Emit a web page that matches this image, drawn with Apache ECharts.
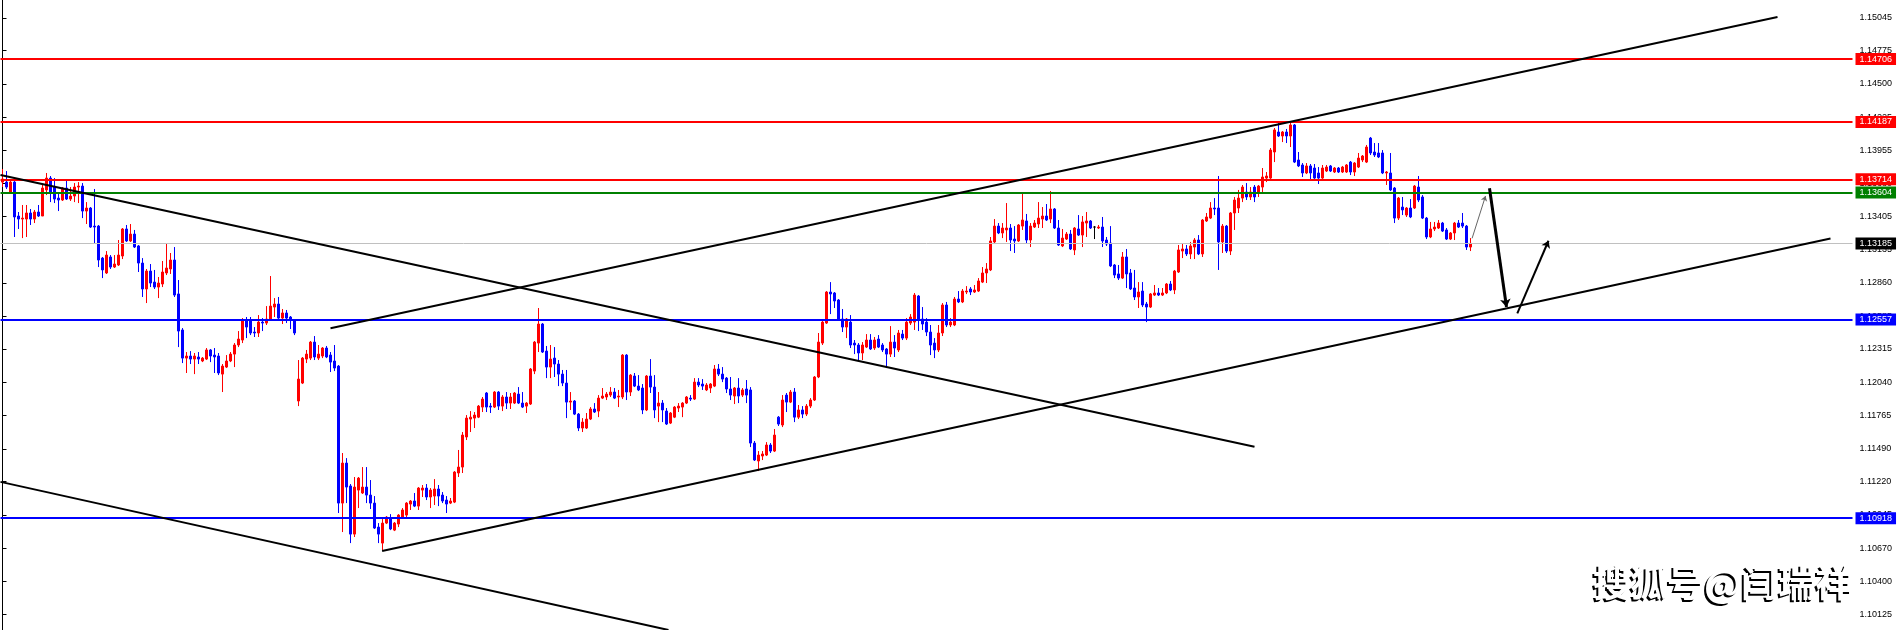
<!DOCTYPE html>
<html><head><meta charset="utf-8">
<script src="https://cdn.jsdelivr.net/npm/echarts@6/dist/echarts.min.js"></script>
<style>html,body{margin:0;padding:0;background:#fff;overflow:hidden}#c{width:1898px;height:630px}</style>
</head><body><div id="c"></div>
<script>
// ---- candle data (EURUSD style) ----
const opens = [
1.13691,1.13691,1.13609,1.13691,1.13411,1.13386,1.13386,1.13436,1.13386,1.13444,
1.13411,1.13626,1.13724,1.13650,1.13559,1.13543,1.13642,1.13551,1.13576,1.13650,
1.13658,1.13452,1.13477,1.13328,1.13328,1.13064,1.12941,1.13073,1.12990,1.13007,
1.13081,1.13304,1.13205,1.13262,1.13164,1.13023,1.12809,1.12957,1.12866,1.12825,
1.12850,1.12941,1.12974,1.13048,1.12768,1.12471,1.12239,1.12256,1.12231,1.12248,
1.12215,1.12231,1.12306,1.12264,1.12256,1.12107,1.12165,1.12215,1.12272,1.12347,
1.12388,1.12545,1.12553,1.12454,1.12446,1.12536,1.12528,1.12553,1.12660,1.12685,
1.12569,1.12611,1.12578,1.12553,1.11885,1.12033,1.12231,1.12239,1.12371,1.12239,
1.12256,1.12322,1.12264,1.12215,1.12173,1.11043,1.11373,1.11184,1.10787,1.11150,
1.11126,1.11175,1.11109,1.11043,1.10845,1.10713,1.10878,1.10919,1.10820,1.10870,
1.10927,1.10944,1.11035,1.11060,1.11018,1.11150,1.11167,1.11093,1.11101,1.11159,
1.11109,1.11068,1.11043,1.11051,1.11291,1.11340,1.11588,1.11736,1.11744,1.11752,
1.11835,1.11951,1.11843,1.11835,1.11959,1.11843,1.11918,1.11868,1.11868,1.11942,
1.11868,1.11843,1.11860,1.12132,1.12363,1.12520,1.12297,1.12165,1.12239,1.12190,
1.12107,1.12033,1.11876,1.11885,1.11777,1.11662,1.11662,1.11736,1.11819,1.11802,
1.11909,1.11918,1.11934,1.11959,1.11918,1.11918,1.12264,1.11959,1.12091,1.12008,
1.11992,1.11811,1.12091,1.12000,1.11843,1.11868,1.11802,1.11703,1.11752,1.11827,
1.11835,1.11868,1.11909,1.11901,1.12041,1.12025,1.11976,1.11992,1.12008,1.12149,
1.12107,1.12074,1.11984,1.11926,1.11992,1.11934,1.11984,1.11976,1.11538,1.11390,
1.11431,1.11439,1.11522,1.11472,1.11752,1.11687,1.11934,1.11876,1.11959,1.11752,
1.11811,1.11777,1.11843,1.11893,1.12083,1.12363,1.12528,1.12784,1.12776,1.12718,
1.12561,1.12495,1.12536,1.12363,1.12347,1.12281,1.12330,1.12388,1.12322,1.12396,
1.12347,1.12314,1.12272,1.12371,1.12306,1.12437,1.12404,1.12528,1.12536,1.12751,
1.12561,1.12536,1.12454,1.12363,1.12306,1.12446,1.12677,1.12512,1.12512,1.12726,
1.12702,1.12784,1.12809,1.12784,1.12792,1.12866,1.12941,1.12966,1.13197,1.13328,
1.13271,1.13296,1.13312,1.13221,1.13205,1.13328,1.13370,1.13213,1.13320,1.13345,
1.13386,1.13411,1.13386,1.13469,1.13312,1.13164,1.13221,1.13262,1.13131,1.13304,
1.13254,1.13353,1.13370,1.13320,1.13312,1.13320,1.13213,1.13188,1.13007,1.12933,
1.12899,1.13073,1.12941,1.12817,1.12743,1.12792,1.12685,1.12660,1.12759,1.12776,
1.12759,1.12776,1.12850,1.12801,1.12949,1.13122,1.13139,1.13098,1.13155,1.13213,
1.13098,1.13370,1.13394,1.13477,1.13477,1.13197,1.13328,1.13122,1.13436,1.13477,
1.13559,1.13609,1.13568,1.13650,1.13609,1.13650,1.13724,1.13724,1.13939,1.14104,
1.14071,1.14104,1.14071,1.14162,1.13873,1.13832,1.13766,1.13824,1.13807,1.13766,
1.13724,1.13782,1.13824,1.13774,1.13807,1.13774,1.13774,1.13856,1.13774,1.13815,
1.13873,1.13856,1.14054,1.13939,1.13931,1.13931,1.13766,1.13766,1.13642,1.13394,
1.13485,1.13419,1.13477,1.13477,1.13650,1.13568,1.13394,1.13238,1.13304,1.13312,
1.13353,1.13296,1.13221,1.13271,1.13353,1.13353,1.13328,1.13155
];
const highs = [
1.13799,1.13782,1.13708,1.13708,1.13444,1.13502,1.13502,1.13469,1.13461,1.13502,
1.13667,1.13766,1.13741,1.13724,1.13609,1.13650,1.13700,1.13650,1.13683,1.13691,
1.13683,1.13526,1.13485,1.13634,1.13337,1.13073,1.13122,1.13089,1.13089,1.13213,
1.13312,1.13337,1.13345,1.13296,1.13172,1.13064,1.12974,1.13015,1.12966,1.12908,
1.13040,1.13188,1.13106,1.13155,1.12883,1.12487,1.12289,1.12297,1.12281,1.12289,
1.12248,1.12322,1.12314,1.12322,1.12281,1.12190,1.12264,1.12289,1.12363,1.12462,
1.12569,1.12578,1.12578,1.12495,1.12594,1.12569,1.12668,1.12916,1.12734,1.12743,
1.12644,1.12636,1.12586,1.12561,1.12223,1.12248,1.12306,1.12380,1.12421,1.12347,
1.12330,1.12339,1.12289,1.12347,1.12182,1.11456,1.11414,1.11200,1.11258,1.11258,
1.11340,1.11340,1.11233,1.11101,1.10878,1.10911,1.10936,1.10952,1.10887,1.10952,
1.11002,1.11051,1.11068,1.11126,1.11175,1.11192,1.11200,1.11167,1.11241,1.11192,
1.11134,1.11101,1.11085,1.11307,1.11481,1.11629,1.11769,1.11802,1.11794,1.11852,
1.11918,1.11959,1.11868,1.11967,1.11967,1.11934,1.11959,1.11951,1.11959,1.12000,
1.11959,1.11876,1.12157,1.12380,1.12652,1.12528,1.12339,1.12347,1.12330,1.12223,
1.12141,1.12141,1.11959,1.11893,1.11786,1.11744,1.11786,1.11835,1.11868,1.11934,
1.11992,1.11959,1.12000,1.11992,1.11976,1.12272,1.12272,1.12107,1.12116,1.12099,
1.12025,1.12099,1.12231,1.12099,1.11959,1.11893,1.11827,1.11794,1.11843,1.11868,
1.11876,1.11926,1.11934,1.12074,1.12074,1.12066,1.12033,1.12033,1.12182,1.12190,
1.12165,1.12083,1.12083,1.12000,1.12074,1.11992,1.12058,1.12000,1.11555,1.11472,
1.11472,1.11546,1.11538,1.11654,1.11761,1.11934,1.11951,1.11976,1.11992,1.11852,
1.11843,1.11860,1.11909,1.12091,1.12446,1.12545,1.12792,1.12866,1.12784,1.12726,
1.12644,1.12569,1.12594,1.12388,1.12363,1.12371,1.12437,1.12437,1.12413,1.12429,
1.12363,1.12322,1.12503,1.12429,1.12471,1.12471,1.12569,1.12602,1.12776,1.12759,
1.12660,1.12569,1.12512,1.12404,1.12512,1.12693,1.12702,1.12569,1.12743,1.12792,
1.12809,1.12833,1.12825,1.12842,1.12899,1.12990,1.13023,1.13238,1.13386,1.13353,
1.13353,1.13518,1.13345,1.13328,1.13345,1.13601,1.13428,1.13353,1.13378,1.13526,
1.13485,1.13510,1.13617,1.13477,1.13378,1.13304,1.13279,1.13296,1.13320,1.13419,
1.13411,1.13444,1.13378,1.13328,1.13337,1.13403,1.13238,1.13328,1.13015,1.13007,
1.13114,1.13139,1.12974,1.12966,1.12866,1.12866,1.12702,1.12776,1.12842,1.12817,
1.12817,1.12858,1.12875,1.12966,1.13172,1.13180,1.13172,1.13197,1.13229,1.13254,
1.13386,1.13436,1.13526,1.13559,1.13741,1.13345,1.13337,1.13444,1.13568,1.13626,
1.13667,1.13683,1.13650,1.13667,1.13667,1.13807,1.13774,1.13972,1.14137,1.14178,
1.14112,1.14129,1.14178,1.14170,1.13939,1.13848,1.13848,1.13840,1.13840,1.13815,
1.13832,1.13832,1.13832,1.13815,1.13815,1.13824,1.13840,1.13865,1.13856,1.13931,
1.13914,1.13997,1.14063,1.14013,1.14013,1.13955,1.13782,1.13931,1.13650,1.13568,
1.13568,1.13485,1.13551,1.13667,1.13741,1.13584,1.13403,1.13362,1.13362,1.13378,
1.13362,1.13312,1.13279,1.13362,1.13378,1.13436,1.13337,1.13229
];
const lows = [
1.13650,1.13634,1.13601,1.13238,1.13304,1.13229,1.13238,1.13337,1.13353,1.13403,
1.13411,1.13584,1.13526,1.13518,1.13452,1.13535,1.13543,1.13535,1.13526,1.13518,
1.13394,1.13345,1.13312,1.13188,1.12990,1.12899,1.12933,1.12974,1.12982,1.12999,
1.13056,1.13197,1.13197,1.13147,1.12949,1.12743,1.12693,1.12825,1.12809,1.12734,
1.12825,1.12924,1.12933,1.12743,1.12330,1.12198,1.12116,1.12190,1.12107,1.12190,
1.12206,1.12223,1.12206,1.12116,1.12099,1.11959,1.12157,1.12206,1.12165,1.12330,
1.12363,1.12404,1.12429,1.12413,1.12413,1.12462,1.12512,1.12545,1.12578,1.12561,
1.12520,1.12528,1.12479,1.12429,1.11843,1.12025,1.12198,1.12223,1.12223,1.12223,
1.12239,1.12239,1.12124,1.12132,1.10961,1.10804,1.11043,1.10713,1.10763,1.11002,
1.11118,1.11043,1.10994,1.10829,1.10713,1.10656,1.10870,1.10820,1.10812,1.10845,
1.10919,1.10927,1.10986,1.11010,1.10986,1.11093,1.11068,1.11002,1.11027,1.11018,
1.11043,1.10961,1.11035,1.11043,1.11258,1.11291,1.11563,1.11629,1.11662,1.11744,
1.11794,1.11794,1.11786,1.11827,1.11811,1.11802,1.11819,1.11819,1.11860,1.11860,
1.11827,1.11786,1.11852,1.12107,1.12289,1.12281,1.12074,1.12074,1.12083,1.12008,
1.12008,1.11744,1.11811,1.11769,1.11637,1.11629,1.11654,1.11728,1.11786,1.11752,
1.11901,1.11893,1.11918,1.11901,1.11835,1.11901,1.11893,1.11926,1.12000,1.11967,
1.11777,1.11802,1.11951,1.11744,1.11711,1.11711,1.11687,1.11695,1.11744,1.11794,
1.11752,1.11860,1.11885,1.11893,1.12000,1.11976,1.11967,1.11951,1.12000,1.12091,
1.12041,1.11951,1.11893,1.11860,1.11868,1.11918,1.11868,1.11505,1.11390,1.11307,
1.11398,1.11431,1.11456,1.11464,1.11679,1.11670,1.11794,1.11868,1.11711,1.11736,
1.11744,1.11761,1.11827,1.11885,1.12074,1.12347,1.12520,1.12602,1.12652,1.12553,
1.12454,1.12404,1.12322,1.12272,1.12223,1.12223,1.12322,1.12306,1.12306,1.12322,
1.12289,1.12157,1.12248,1.12248,1.12289,1.12388,1.12388,1.12512,1.12471,1.12462,
1.12471,1.12421,1.12264,1.12239,1.12289,1.12421,1.12495,1.12495,1.12503,1.12693,
1.12693,1.12767,1.12759,1.12776,1.12784,1.12858,1.12858,1.12957,1.13180,1.13262,
1.13229,1.13197,1.13122,1.13106,1.13197,1.13296,1.13188,1.13155,1.13312,1.13312,
1.13312,1.13370,1.13353,1.13304,1.13164,1.13155,1.13213,1.13131,1.13089,1.13246,
1.13155,1.13238,1.13304,1.13221,1.13304,1.13155,1.13164,1.12990,1.12899,1.12883,
1.12891,1.12817,1.12801,1.12718,1.12652,1.12660,1.12536,1.12652,1.12751,1.12751,
1.12751,1.12767,1.12792,1.12767,1.12941,1.13064,1.13081,1.13056,1.13056,1.13089,
1.13073,1.13362,1.13386,1.13419,1.12966,1.13106,1.13106,1.13089,1.13296,1.13436,
1.13526,1.13543,1.13543,1.13526,1.13568,1.13609,1.13691,1.13716,1.13856,1.14063,
1.14021,1.14013,1.13980,1.13848,1.13815,1.13733,1.13757,1.13716,1.13716,1.13675,
1.13708,1.13774,1.13774,1.13766,1.13766,1.13766,1.13766,1.13749,1.13741,1.13807,
1.13856,1.13848,1.13914,1.13898,1.13889,1.13757,1.13667,1.13617,1.13353,1.13378,
1.13419,1.13403,1.13394,1.13469,1.13526,1.13386,1.13221,1.13229,1.13287,1.13304,
1.13279,1.13213,1.13213,1.13213,1.13312,1.13312,1.13131,1.13122
];
const closes = [
1.13716,1.13650,1.13691,1.13403,1.13386,1.13394,1.13436,1.13386,1.13444,1.13411,
1.13642,1.13724,1.13609,1.13551,1.13543,1.13642,1.13551,1.13576,1.13650,1.13658,
1.13452,1.13477,1.13320,1.13320,1.13048,1.12966,1.13089,1.12990,1.13015,1.13089,
1.13304,1.13205,1.13262,1.13155,1.13023,1.12809,1.12957,1.12858,1.12825,1.12858,
1.12949,1.12982,1.13048,1.12759,1.12462,1.12239,1.12256,1.12231,1.12256,1.12231,
1.12239,1.12306,1.12256,1.12248,1.12116,1.12173,1.12215,1.12272,1.12347,1.12396,
1.12545,1.12495,1.12446,1.12446,1.12536,1.12528,1.12561,1.12668,1.12685,1.12569,
1.12611,1.12569,1.12553,1.12446,1.12066,1.12239,1.12272,1.12371,1.12248,1.12272,
1.12322,1.12248,1.12206,1.12157,1.11043,1.11373,1.11175,1.10787,1.11175,1.11249,
1.11175,1.11109,1.11043,1.10837,1.10787,1.10878,1.10927,1.10829,1.10878,1.10944,
1.10986,1.11043,1.11060,1.11018,1.11167,1.11167,1.11093,1.11150,1.11159,1.11101,
1.11060,1.11035,1.11060,1.11299,1.11340,1.11604,1.11744,1.11752,1.11769,1.11843,
1.11901,1.11835,1.11835,1.11959,1.11843,1.11918,1.11868,1.11918,1.11951,1.11868,
1.11835,1.11868,1.12149,1.12371,1.12520,1.12289,1.12165,1.12231,1.12190,1.12107,
1.12033,1.11876,1.11885,1.11777,1.11662,1.11711,1.11736,1.11819,1.11794,1.11909,
1.11926,1.11942,1.11959,1.11909,1.11926,1.12264,1.11959,1.12099,1.12008,1.11976,
1.11811,1.12091,1.12000,1.11811,1.11868,1.11811,1.11695,1.11786,1.11835,1.11843,
1.11868,1.11918,1.11901,1.12041,1.12017,1.12008,1.12017,1.12025,1.12149,1.12107,
1.12066,1.11984,1.11934,1.11992,1.11926,1.11976,1.11934,1.11538,1.11398,1.11439,
1.11448,1.11522,1.11472,1.11604,1.11695,1.11893,1.11876,1.11959,1.11752,1.11811,
1.11777,1.11843,1.11893,1.12083,1.12371,1.12536,1.12784,1.12768,1.12710,1.12561,
1.12495,1.12561,1.12347,1.12347,1.12281,1.12347,1.12388,1.12314,1.12388,1.12330,
1.12306,1.12272,1.12371,1.12322,1.12446,1.12404,1.12536,1.12578,1.12759,1.12561,
1.12520,1.12454,1.12347,1.12306,1.12446,1.12677,1.12512,1.12536,1.12726,1.12702,
1.12792,1.12792,1.12784,1.12801,1.12875,1.12941,1.12974,1.13205,1.13328,1.13271,
1.13312,1.13312,1.13213,1.13205,1.13337,1.13378,1.13213,1.13328,1.13353,1.13394,
1.13411,1.13378,1.13469,1.13312,1.13172,1.13229,1.13262,1.13139,1.13312,1.13254,
1.13362,1.13370,1.13312,1.13320,1.13320,1.13205,1.13180,1.12999,1.12924,1.12899,
1.13073,1.12933,1.12809,1.12743,1.12784,1.12677,1.12660,1.12768,1.12776,1.12759,
1.12776,1.12850,1.12801,1.12957,1.13131,1.13139,1.13098,1.13164,1.13213,1.13098,
1.13378,1.13403,1.13477,1.13469,1.13197,1.13328,1.13122,1.13436,1.13543,1.13559,
1.13650,1.13568,1.13609,1.13568,1.13658,1.13733,1.13741,1.13955,1.14121,1.14071,
1.14104,1.14071,1.14162,1.13856,1.13824,1.13766,1.13824,1.13766,1.13724,1.13724,
1.13807,1.13815,1.13782,1.13807,1.13774,1.13815,1.13832,1.13774,1.13848,1.13889,
1.13906,1.13980,1.13931,1.13914,1.13898,1.13766,1.13774,1.13626,1.13394,1.13559,
1.13461,1.13477,1.13403,1.13658,1.13543,1.13394,1.13238,1.13304,1.13320,1.13353,
1.13287,1.13221,1.13271,1.13353,1.13320,1.13328,1.13155,1.13185
];

// ---- axis / levels ----
const slotCount = 463;                 // bar slots across the plot (incl. empty future area)
const priceMin = 1.09996, priceMax = 1.15193;
const tickLabels = [1.15045,1.14775,1.14500,1.14225,1.13955,1.13680,1.13405,1.13135,1.12860,
  1.12585,1.12315,1.12040,1.11765,1.11490,1.11220,1.10945,1.10670,1.10400,1.10125];
const levelValues = [1.14706, 1.14187, 1.13714, 1.13604, 1.12557, 1.10918];
const levelColors = ['#ff0000','#ff0000','#ff0000','#008000','#0000ff','#0000ff'];
const currentPrice = 1.13185;

// trend lines: [[slot, price],[slot, price]]
const trendLines = [
  [[82, 1.12485], [443.75, 1.15053]],
  [[94.9, 1.10647], [457, 1.13225]],
  [[-0.5, 1.13749], [313, 1.11508]],
  [[-0.5, 1.11218], [166.5, 1.09996]]
];
// projected path arrows
const arrowPaths = [
  {from: [367.4, 1.13227], to: [370.75, 1.13576], w: 1, c: '#666', s: 5},
  {from: [371.75, 1.13640], to: [376, 1.12660], w: 3, c: '#000', s: 8},
  {from: [378.7, 1.12608], to: [386.5, 1.13207], w: 2, c: '#000', s: 7}
];

const categories = Array.from({length: slotCount}, (_, i) => i);
const candleData = opens.map((o, i) => [o, closes[i], lows[i], highs[i]]);
const fmt = v => Number(v).toFixed(5);
const labelFont = {fontFamily: 'Liberation Sans', fontSize: 9};

const levelMarks = [{
  yAxis: currentPrice,
  lineStyle: {color: '#c0c0c0', width: 1, type: 'solid'},
  label: {backgroundColor: '#000'}
}];
levelValues.forEach((v, k) => levelMarks.push({
  yAxis: v,
  lineStyle: {color: levelColors[k], width: 2, type: 'solid'},
  label: {backgroundColor: levelColors[k]}
}));

const chart = echarts.init(document.getElementById('c'), null, {renderer: 'canvas'});
const series = [{
  type: 'candlestick',
  data: candleData,
  barWidth: 2,
  z: 3,
  itemStyle: {color: '#ff0000', color0: '#0000ff', borderColor: '#ff0000', borderColor0: '#0000ff',
              borderColorDoji: '#000000', borderWidth: 1},
  emphasis: {disabled: true},
  markLine: {
    silent: true, symbol: ['none', 'none'], animation: false, z: 4, precision: 5,
    label: Object.assign({show: true, position: 'end', distance: 3, color: '#fff',
            padding: [1, 4, 1, 4], lineHeight: 10, formatter: p => fmt(p.value)}, labelFont),
    data: levelMarks
  }
}];
trendLines.forEach(t => series.push({
  type: 'line', xAxisIndex: 1, yAxisIndex: 0, data: t, symbol: 'none', silent: true,
  lineStyle: {color: '#000', width: 2}, z: 5, animation: false
}));
arrowPaths.forEach(a => series.push({
  type: 'lines', coordinateSystem: 'cartesian2d', xAxisIndex: 1, yAxisIndex: 0, silent: true,
  symbol: ['none', 'arrow'], symbolSize: a.s, z: 6, animation: false,
  lineStyle: {color: a.c, width: a.w, opacity: 1},
  data: [{coords: [a.from, a.to]}]
}));

chart.setOption({
  animation: false,
  backgroundColor: '#ffffff',
  grid: {left: 0.5, right: 45.5, top: 0, bottom: 0, containLabel: false},
  xAxis: [
    {type: 'category', data: categories, boundaryGap: true, show: false},
    {type: 'value', min: -0.5, max: slotCount - 0.5, show: false}
  ],
  yAxis: {
    type: 'value', position: 'right', min: priceMin, max: priceMax, scale: true,
    splitLine: {show: false},
    axisLine: {show: true, lineStyle: {color: '#000', width: 1}},
    axisTick: {show: true, inside: false, length: 4, customValues: tickLabels, lineStyle: {color: '#000'}},
    axisLabel: Object.assign({show: true, margin: 7, color: '#000', customValues: tickLabels,
                formatter: v => fmt(v)}, labelFont)
  },
  graphic: [
    {type: 'text', left: 1591, top: 566, z: 100, silent: true,
     style: {text: '搜狐号@闫瑞祥', fill: '#000', font: 'bold 37px "Noto Sans CJK SC"'}},
    {type: 'text', left: 1593, top: 564, z: 101, silent: true,
     style: {text: '搜狐号@闫瑞祥', fill: '#fff', font: 'bold 37px "Noto Sans CJK SC"'}}
  ],
  series: series
});
</script>
</body></html>
